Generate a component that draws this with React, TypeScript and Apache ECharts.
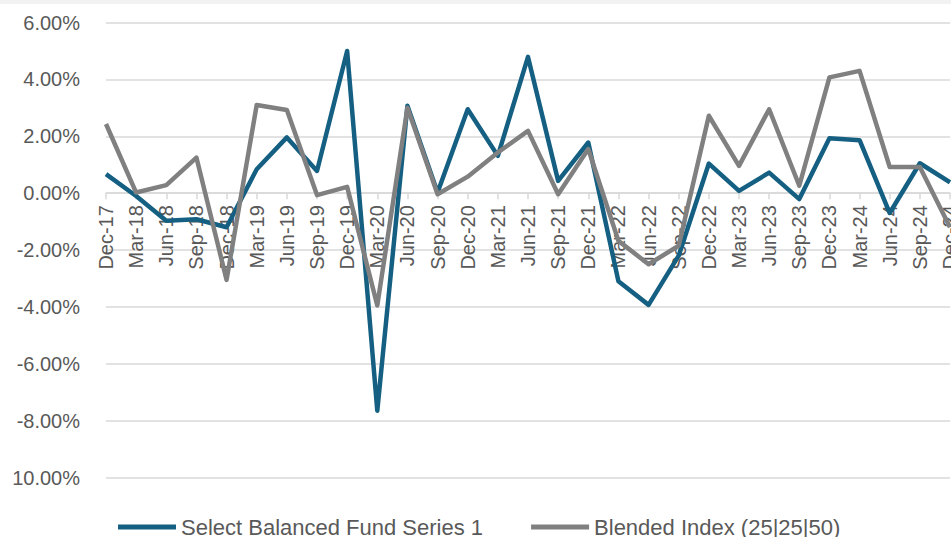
import React, { useEffect, useRef } from "react";
import * as echarts from "echarts";

const categories = [
  "Dec-17", "Mar-18", "Jun-18", "Sep-18", "Dec-18", "Mar-19", "Jun-19", "Sep-19",
  "Dec-19", "Mar-20", "Jun-20", "Sep-20", "Dec-20", "Mar-21", "Jun-21", "Sep-21",
  "Dec-21", "Mar-22", "Jun-22", "Sep-22", "Dec-22", "Mar-23", "Jun-23", "Sep-23",
  "Dec-23", "Mar-24", "Jun-24", "Sep-24", "Dec-24",
];

const fundValues = [
  0.67, -0.1, -0.97, -0.92, -1.2, 0.84, 1.96, 0.78,
  5.0, -7.65, 3.07, 0.02, 2.95, 1.31, 4.79, 0.43,
  1.78, -3.1, -3.93, -2.2, 1.04, 0.08, 0.72, -0.21,
  1.93, 1.86, -0.7, 1.05, 0.38,
];

const indexValues = [
  2.43, 0.02, 0.28, 1.25, -3.05, 3.1, 2.92, -0.07,
  0.22, -3.95, 3.0, -0.04, 0.58, 1.43, 2.19, -0.04,
  1.55, -1.68, -2.5, -1.85, 2.72, 0.96, 2.95, 0.26,
  4.07, 4.3, 0.92, 0.92, -1.2,
];

const yMin = -10;
const yMax = 6;
const yStep = 2;

const seriesNames = ["Select Balanced Fund Series 1", "Blended Index (25|25|50)"];

export default function App() {
  const ref = useRef<HTMLDivElement>(null);

  useEffect(() => {
    if (!ref.current) return;
    const chart = echarts.init(ref.current, undefined, { renderer: "svg" });
    const axisFont = "Liberation Sans, Arial, sans-serif";
    const gridTop = 22.5;
    const gridBottom = 59.5;
    const plotHeight = 537 - gridTop - gridBottom;
    const zeroOffset = -plotHeight * (0 - yMin) / (yMax - yMin);
    chart.setOption({
      animation: false,
      backgroundColor: "#ffffff",
      graphic: [
        {
          type: "rect",
          left: 0,
          top: 0,
          shape: { width: 951, height: 4 },
          style: { fill: "#f2f2f2" },
          silent: true,
        },
      ],
      grid: {
        left: 106,
        right: 1,
        top: gridTop,
        bottom: gridBottom,
        containLabel: false,
        outerBoundsMode: "none",
      },
      legend: {
        left: 118,
        top: 516,
        padding: 0,
        itemWidth: 58,
        itemHeight: 5,
        itemGap: 48,
        icon: "rect",
        textStyle: { fontSize: 22, color: "#595959", fontFamily: axisFont },
        data: seriesNames,
      },
      xAxis: {
        type: "category",
        data: categories,
        boundaryGap: false,
        offset: zeroOffset,
        axisLine: {
          onZero: false,
          lineStyle: { color: "#d9d9d9", width: 1.5 },
        },
        axisTick: { show: true, length: 6, lineStyle: { color: "#d9d9d9", width: 1.5 } },
        axisLabel: {
          rotate: 90,
          interval: 0,
          fontSize: 20,
          color: "#595959",
          fontFamily: axisFont,
          margin: 12,
        },
        splitLine: { show: false },
      },
      yAxis: {
        type: "value",
        min: yMin,
        max: yMax,
        interval: yStep,
        axisLine: { show: false },
        axisTick: { show: false },
        axisLabel: {
          fontSize: 20,
          color: "#595959",
          fontFamily: axisFont,
          margin: 26,
          formatter: (v: number) => (v === -10 ? "10.00%" : v.toFixed(2) + "%"),
        },
        splitLine: { lineStyle: { color: "#d9d9d9", width: 1.5 } },
      },
      series: [
        {
          name: seriesNames[0],
          type: "line",
          data: fundValues,
          symbol: "none",
          lineStyle: { color: "#156082", width: 4.5, join: "round" },
          itemStyle: { color: "#156082" },
        },
        {
          name: seriesNames[1],
          type: "line",
          data: indexValues,
          symbol: "none",
          lineStyle: { color: "#808080", width: 4.5, join: "round" },
          itemStyle: { color: "#808080" },
        },
      ],
    });
    return () => chart.dispose();
  }, []);

  return (
    <div style={{ position: "fixed", left: 0, top: 0, width: 951, height: 537, overflow: "hidden", background: "#fff" }}>
      <div ref={ref} style={{ width: 951, height: 537 }} />
    </div>
  );
}
